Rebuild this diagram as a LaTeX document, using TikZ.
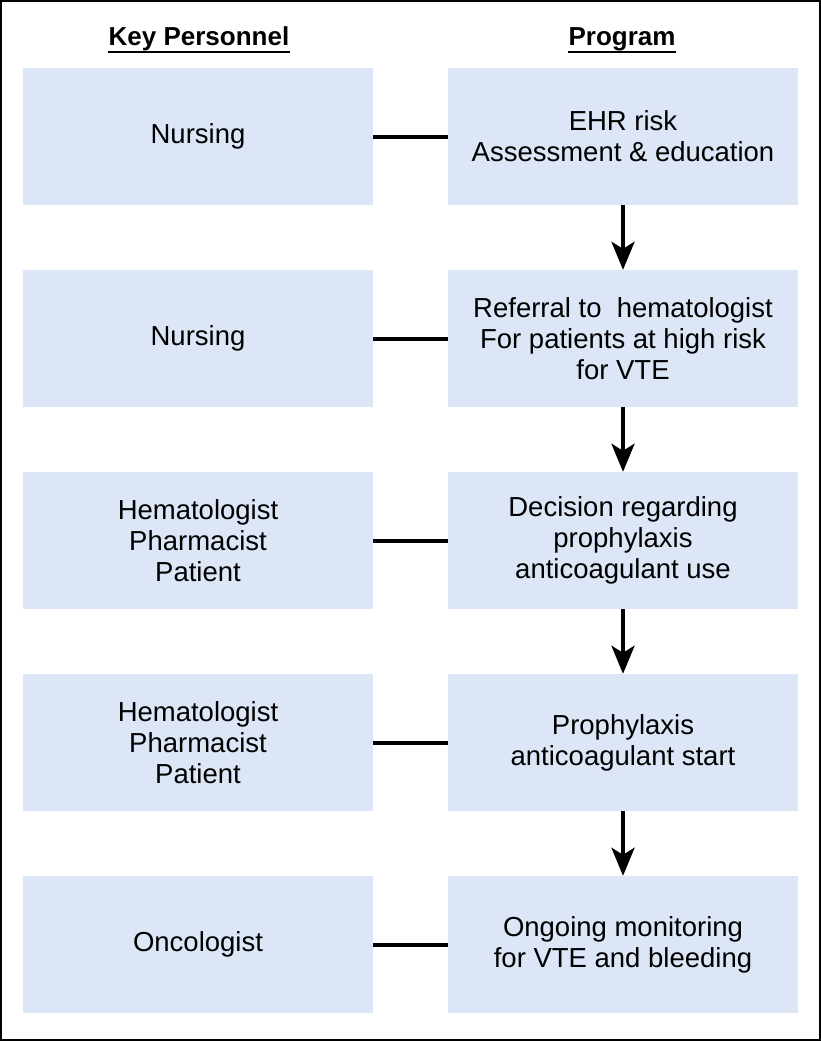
\documentclass[tikz,border=0pt]{standalone}
\usepackage{fontspec}
\setmainfont{Liberation Sans}
\usetikzlibrary{arrows.meta}
\definecolor{boxblue}{HTML}{DCE6F6}

\begin{document}
\begin{tikzpicture}[x=1pt, y=1pt, node distance=202pt,
    cell/.style={rectangle, fill=boxblue, minimum width=350pt, minimum height=137pt, inner sep=0pt, align=center, font=\fontsize{27.5}{31}\selectfont},
    head/.style={inner sep=0pt, font=\fontsize{26}{31}\selectfont\bfseries},
    link/.style={line width=4pt},
    flow/.style={line width=4pt, -{Stealth[length=28pt, width=23pt, inset=7pt]}}]
        \useasboundingbox (0,0) rectangle (821,-1041);
        \draw[line width=2pt] (1,-1) rectangle (820,-1040);

        \node (keyhead) [head, anchor=base] at (199,-46) {Key Personnel};
        \node (proghead) [head, anchor=base] at (622,-46) {Program};
        \draw[line width=2.5pt] ([yshift=-6pt]keyhead.base west) -- ([yshift=-6pt]keyhead.base east);
        \draw[line width=2.5pt] ([yshift=-6pt]proghead.base west) -- ([yshift=-6pt]proghead.base east);

        \node (pers1) [cell] at (198,-136.5) {Nursing};
        \node (pers2) [cell, below of=pers1] {Nursing};
        \node (pers3) [cell, below of=pers2] {Hematologist\\Pharmacist\\Patient};
        \node (pers4) [cell, below of=pers3] {Hematologist\\Pharmacist\\Patient};
        \node (pers5) [cell, below of=pers4] {Oncologist};

        \node (prog1) [cell] at (623,-136.5) {EHR risk\\Assessment \& education};
        \node (prog2) [cell, below of=prog1] {Referral to\ \ hematologist\\For patients at high risk\\for VTE};
        \node (prog3) [cell, below of=prog2] {Decision regarding\\prophylaxis\\anticoagulant use};
        \node (prog4) [cell, below of=prog3] {Prophylaxis\\anticoagulant start};
        \node (prog5) [cell, below of=prog4] {Ongoing monitoring\\for VTE and bleeding};

        \foreach \i in {1,...,5}
            \draw[link] (pers\i) -- (prog\i);
        \foreach \i/\j in {1/2,2/3,3/4,4/5}
            \draw[flow] (prog\i) -- (prog\j);
    \end{tikzpicture}
\end{document}
